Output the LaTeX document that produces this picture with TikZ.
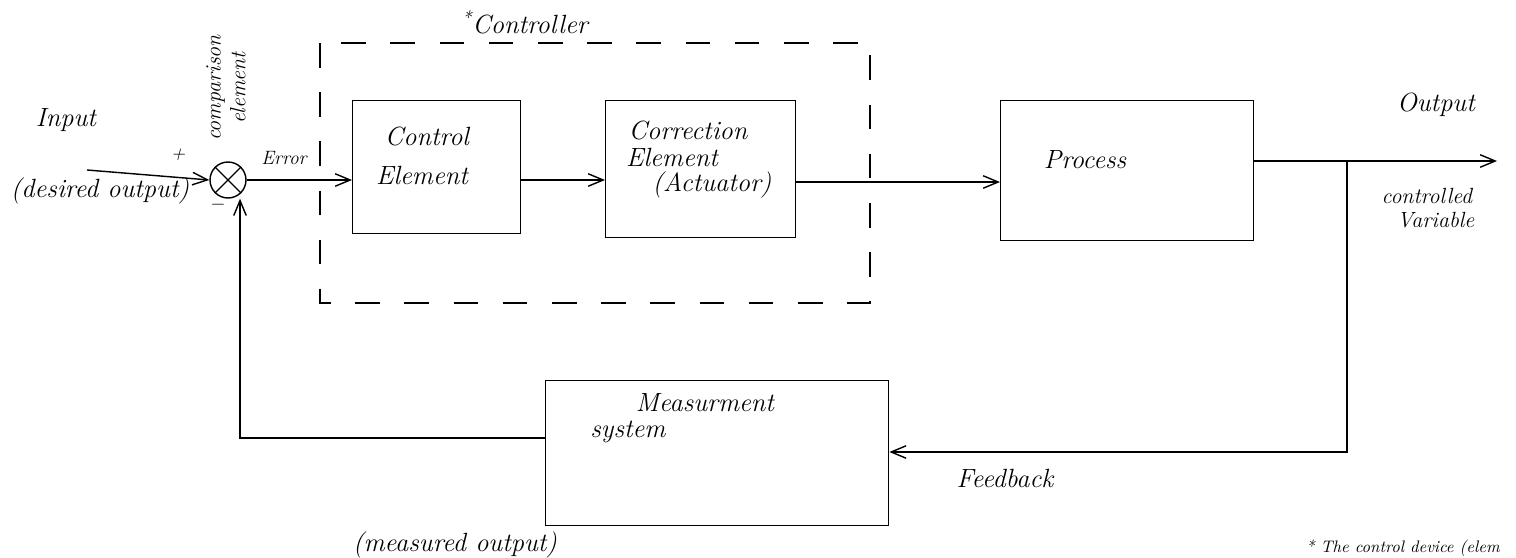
\documentclass[tikz,border=0pt]{standalone}
\usetikzlibrary{arrows.meta}
\begin{document}
\begin{tikzpicture}[x=0.02cm,y=-0.02cm,
  blk/.style={draw,line width=0.8pt,inner sep=0pt,anchor=north west},
  lbl/.style={font=\fontsize{15}{17}\selectfont\itshape},
  mid/.style={font=\fontsize{12.5}{14}\selectfont\itshape},
  sml/.style={font=\fontsize{11}{12}\selectfont\itshape},
  arr/.style={line width=0.8pt,-{Straight Barb[length=3mm,width=2.5mm]}},
  ln/.style={line width=0.8pt}]
\useasboundingbox (0,0) rectangle (1516,558);
% controller dashed box
\draw[line width=0.6pt,dash pattern=on 14pt off 14pt] (320,43) rectangle (870,303);
\node[lbl] (ctl) at (525,22) {\textsuperscript{*}Controller};
% summing junction
\node[draw,circle,line width=0.8pt,minimum size=0.72cm,inner sep=0pt] (sum) at (228,180) {};
\draw[ln] (sum.north west) -- (sum.south east) (sum.north east) -- (sum.south west);
\node[mid,rotate=90,align=center] (cmp) at (226,88) {comparison\\element};
% blocks
\node[blk,minimum width=3.36cm,minimum height=2.66cm] (ce) at (352,100) {};
\node[lbl] (ce1) at (427,136) {Control};
\node[lbl] (ce2) at (422,175) {Element};
\node[blk,minimum width=3.8cm,minimum height=2.74cm] (corr) at (605,100) {};
\node[lbl] (co1) at (688,130) {Correction};
\node[lbl] (co2) at (672,157) {Element};
\node[lbl] (co3) at (712,185) {(Actuator)};
\node[blk,minimum width=5.06cm,minimum height=2.8cm] (proc) at (1000,100) {};
\node[lbl] (pr) at (1085,160) {Process};
\node[blk,minimum width=6.86cm,minimum height=2.9cm] (meas) at (545,380) {};
\node[lbl] (me1) at (705,403) {Measurment};
\node[lbl] (me2) at (628,432) {system};
% texts
\node[lbl] (inp) at (66,120) {Input};
\node[lbl] (des) at (100,191) {(desired output)};
\node[sml] (plus) at (178,155) {+};
\node[sml] (minus) at (218,205) {$-$};
\node[sml] (err) at (284,158) {Error};
\node[lbl] (out) at (1436,105) {Output};
\node[mid,align=left] (cv) at (1428,208) {controlled\\\ \ Variable};
\node[lbl] (fb) at (1005,478) {Feedback};
\node[lbl] (mo) at (455,545) {(measured output)};
\node[font=\fontsize{9.5}{11}\selectfont\itshape,anchor=west] (note) at (1300,548) {* The control device (elem};
% coordinates
\coordinate (in0) at (87,170);
\coordinate (outE) at (1497,161);
\coordinate (tap) at (1347,161);
\coordinate (tapB) at (1347,452);
\coordinate (fbL) at (240,438);
% connectors
\draw[arr] (in0) -- (sum.west);
\draw[arr] (sum.east) -- (ce.west |- sum.east);
\draw[arr] (ce.east |- 0,180) -- (corr.west |- 0,180);
\draw[arr] (corr.east |- 0,182) -- (proc.west |- 0,182);
\draw[arr] (proc.east |- outE) -- (outE);
\draw[arr] (tap) -- (tapB) -- (meas.east |- tapB);
\draw[arr] (meas.west |- fbL) -- (fbL) -- (sum.south -| fbL);
\end{tikzpicture}
\end{document}
